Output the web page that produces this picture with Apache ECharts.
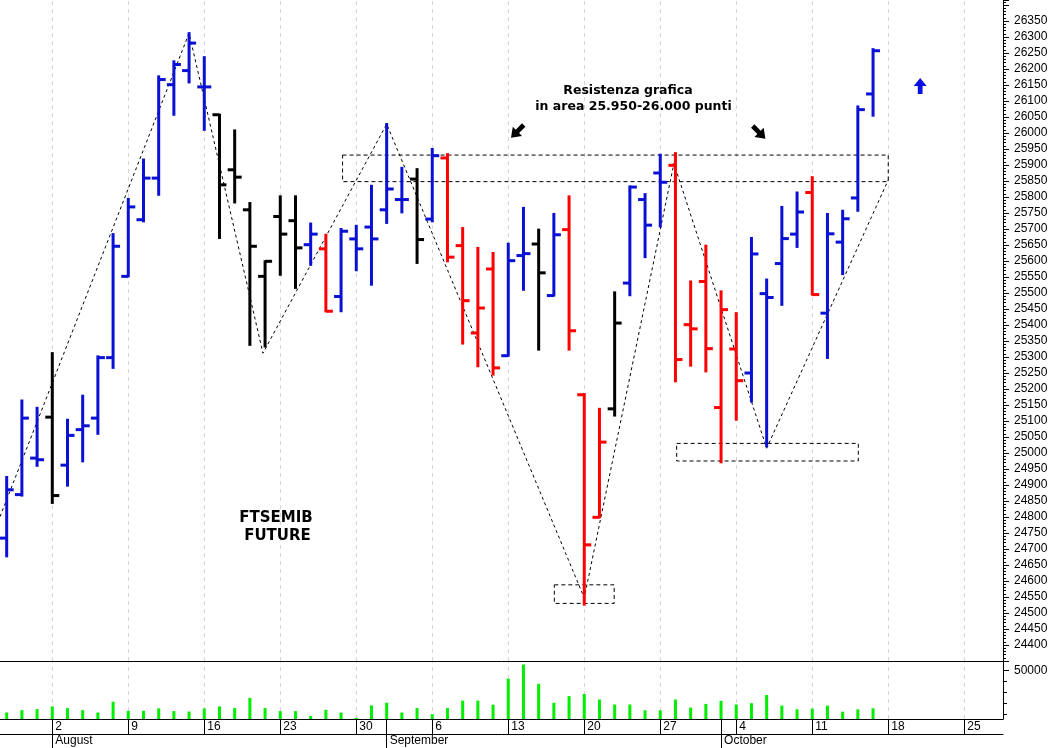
<!DOCTYPE html>
<html><head><meta charset="utf-8">
<script src="https://cdn.jsdelivr.net/npm/echarts@6/dist/echarts.min.js"></script>
<style>html,body{margin:0;padding:0;background:#fff}#c{width:1052px;height:748px}</style>
</head><body><div id="c"></div><script>
// ---- data (FTSEMIB future, daily OHLC, Jul 28 - Oct 15 2021) ----
const dates = [
 '28/07','29/07','30/07',
 '02/08','03/08','04/08','05/08','06/08',
 '09/08','10/08','11/08','12/08','13/08',
 '16/08','17/08','18/08','19/08','20/08',
 '23/08','24/08','25/08','26/08','27/08',
 '30/08','31/08','01/09','02/09','03/09',
 '06/09','07/09','08/09','09/09','10/09',
 '13/09','14/09','15/09','16/09','17/09',
 '20/09','21/09','22/09','23/09','24/09',
 '27/09','28/09','29/09','30/09','01/10',
 '04/10','05/10','06/10','07/10','08/10',
 '11/10','12/10','13/10','14/10','15/10'];
const openP = [24734,24870,24984,25112,24962,25073,25109,25298,25552,25729,25859,26151,26195,26144,26057,25885,25760,25552,25739,25726,
 25651,25638,25489,25669,25706,25760,25792,25856,25731,25922,25648,25375,25575,25304,25617,25653,25492,25698,25182,24799,
 25138,25531,25792,25875,25899,25401,25536,25142,25325,25250,25498,25592,25684,25814,25437,25659,25797,26122];
const highP = [24925,25164,25141,25312,25104,25179,25302,25684,25794,25917,26177,26224,26312,26237,26057,26008,25781,25599,25802,25802,
 25717,25682,25700,25710,25835,26028,25891,25887,25950,25934,25703,25641,25625,25654,25766,25698,25747,25802,25184,25138,
 25502,25833,25809,25932,25937,25536,25648,25505,25437,25672,25542,25769,25814,25862,25747,25757,26083,26262];
const lowP = [24677,24867,24960,24844,24898,24974,25060,25266,25552,25724,25807,26057,26158,26010,25672,25783,25338,25333,25557,25516,
 25588,25443,25443,25571,25526,25719,25752,25594,25724,25599,25342,25271,25245,25304,25510,25323,25492,25323,24526,24799,
 25117,25493,25612,25708,25224,25273,25255,24971,25104,25161,25021,25463,25644,25495,25297,25559,25757,26054];
const closeP = [24885,25109,24979,24867,25055,25085,25298,25646,25769,25859,26167,26214,26281,26144,25838,25862,25646,25599,25684,25641,
 25684,25443,25693,25638,25669,25825,25792,25667,25929,25612,25476,25453,25266,25601,25623,25563,25682,25382,24713,25034,
 25406,25831,25712,25846,25292,25388,25326,25448,25226,25622,25486,25670,25753,25495,25685,25732,26073,26257];
// trend colour code per bar: B = blue, R = red, K = black
const trend = ['B','B','B','K','B','B','B','B','B','B','B','B','B','B','K','K','K','K','K','K',
 'B','R','B','B','B','B','B','K','B','R','R','R','R','B','B','K','B','R','R','R',
 'K','B','B','B','R','R','R','R','R','B','B','B','B','R','B','B','B','B'];
const volume = [11900,14050,14960,17400,15870,14050,11880,21660,13420,13420,15590,13150,12790,15590,17400,15870,25100,15870,13150,13150,
 8800,14330,11880,7000,18310,20750,11880,15870,10340,15870,22650,22650,18940,42470,55320,37860,20660,26720,28630,23650,
 19120,19120,13870,13870,23650,16320,19670,22470,19120,20300,27720,18130,14780,15410,18130,12610,14780,15680];

// axis labels
const weekTickIdx = [3,8,13,18,23,28,33,38,43,48,53,58,63];
const weekTickLabels = ['2','9','16','23','30','6','13','20','27','4','11','18','25'];
const monthTickIdx = [3,25,47];
const monthLabels = ['August','September','October'];
const volTickMajor = [50000];
const volTickMinor = [10000,20000,30000,40000];

// annotations (trading-day index, price)
const zigzag = [[-0.44,24801],[12,26312],[16.86,25312],[25,26028],[38,24547],[43.9,25905],[50,25015],[58,25853]];
const boxes = [
  [[22.1,25931],[58.0,25848]],
  [[36.03,24588],[39.97,24530]],
  [[44.08,25030],[56.03,24975]]
];
const arrows = [[33.6,26005,'sw'],[49.5,26002,'se'],[60.1,26147,'up']];

// ---- chart ----
const colorMap = {B:'#0a10d4', R:'#ff0000', K:'#000000'};
const XMIN = -0.44, XMAX = 65.55;
const PMIN = 24350, PMAX = 26415.6;
const VMIN = 6000, VMAX = 58500;
const AXIS_FONT = 'Liberation Sans';

const ohlcData = dates.map((d,i)=>[i, openP[i], highP[i], lowP[i], closeP[i]]);
const volData = dates.map((d,i)=>[i, volume[i]]);

function renderOHLC(params, api){
  const i = params.dataIndex;
  const x = api.value(0);
  const pO = api.coord([x, api.value(1)]);
  const pH = api.coord([x, api.value(2)]);
  const pL = api.coord([x, api.value(3)]);
  const pC = api.coord([x, api.value(4)]);
  const st = {stroke: colorMap[trend[i]], lineWidth: 3};
  return {type:'group', children:[
    {type:'line', shape:{x1:pH[0], y1:pH[1]-1, x2:pL[0], y2:pL[1]+1}, style:st},
    {type:'line', shape:{x1:pO[0]-7, y1:pO[1], x2:pO[0], y2:pO[1]}, style:st},
    {type:'line', shape:{x1:pC[0], y1:pC[1], x2:pC[0]+7, y2:pC[1]}, style:st}
  ]};
}
function renderVol(params, api){
  const x = api.value(0);
  const p = api.coord([x, api.value(1)]);
  const b = api.coord([x, VMIN]);
  return {type:'rect', shape:{x:p[0]-1.5, y:p[1], width:3, height:b[1]-p[1]}, style:{fill:'#00ee00'}};
}

const arrowPath = 'path://M6,0 L12,8 L8.2,8 L8.2,16 L3.8,16 L3.8,8 L0,8 Z';
const arrowItems = arrows.map(a => ({
  value:[a[0], a[1]],
  symbol: arrowPath,
  symbolSize: a[2]==='up' ? [13,16] : [13,18],
  symbolRotate: a[2]==='up' ? 0 : (a[2]==='sw' ? 135 : -135),
  itemStyle: {color: a[2]==='up' ? '#0a10e0' : '#000', opacity:1}
}));

const gridLineMark = {
  silent:true, symbol:['none','none'], z:0, animation:false,
  label:{show:false},
  lineStyle:{color:'#d4d4dc', type:[4,4], width:1},
  emphasis:{disabled:true},
  data: weekTickIdx.map(v=>({xAxis:v}))
};

const baseX = (gi) => ({
  type:'value', gridIndex:gi, min:XMIN, max:XMAX,
  axisLine:{show:true, onZero:false, lineStyle:{color:'#000', width:1}},
  axisTick:{show:false}, axisLabel:{show:false}, splitLine:{show:false}
});

const option = {
  animation:false,
  backgroundColor:'#fff',
  grid:[
    {left:0, right:49, top:0, height:661, outerBoundsMode:'none', containLabel:false},
    {left:0, right:49, top:661, height:58, outerBoundsMode:'none', containLabel:false},
    {left:0, right:49, top:719, height:15, outerBoundsMode:'none', containLabel:false},
    {left:0, right:49, top:734, height:14, outerBoundsMode:'none', containLabel:false}
  ],
  xAxis:[
    baseX(0),
    baseX(1),
    Object.assign(baseX(2), {
      axisTick:{show:true, inside:true, length:15, customValues:weekTickIdx, lineStyle:{color:'#000', width:1}},
      axisLabel:{show:true, inside:true, margin:1, customValues:weekTickIdx, align:'left', padding:[0,0,0,3],
        color:'#000', fontFamily:AXIS_FONT, fontSize:12,
        formatter:(v)=>{const k = weekTickIdx.indexOf(Math.round(v)); return k>=0 ? weekTickLabels[k] : '';}}
    }),
    Object.assign(baseX(3), {
      axisLine:{show:false, onZero:false},
      axisTick:{show:true, inside:true, length:29, customValues:monthTickIdx, lineStyle:{color:'#000', width:1}},
      axisLabel:{show:true, inside:true, margin:1, customValues:monthTickIdx, align:'left', padding:[0,0,0,3],
        color:'#000', fontFamily:AXIS_FONT, fontSize:12,
        formatter:(v)=>{const k = monthTickIdx.indexOf(Math.round(v)); return k>=0 ? monthLabels[k] : '';}}
    })
  ],
  yAxis:[
    {type:'value', gridIndex:0, position:'right', min:PMIN, max:PMAX, interval:50,
     axisLine:{show:true, onZero:false, lineStyle:{color:'#000', width:1}},
     axisTick:{show:true, length:6, lineStyle:{color:'#000', width:1}},
     minorTick:{show:true, splitNumber:5, length:3, lineStyle:{color:'#000', width:1}},
     axisLabel:{margin:11, color:'#000', fontFamily:AXIS_FONT, fontSize:12,
       formatter:(v)=> (v%50===0 && v>=24400 && v<=26350) ? String(v) : ''},
     splitLine:{show:false}, minorSplitLine:{show:false}},
    {type:'value', gridIndex:1, position:'right', min:VMIN, max:VMAX,
     axisLine:{show:true, onZero:false, lineStyle:{color:'#000', width:1}},
     axisTick:{show:true, length:6, customValues:volTickMajor, lineStyle:{color:'#000', width:1}},
     axisLabel:{show:true, margin:11, customValues:volTickMajor, color:'#000', fontFamily:AXIS_FONT, fontSize:12,
       formatter:(v)=>String(Math.round(v))},
     splitLine:{show:false}},
    {type:'value', gridIndex:1, position:'right', min:VMIN, max:VMAX,
     axisLine:{show:false, onZero:false},
     axisTick:{show:true, length:4, customValues:volTickMinor, lineStyle:{color:'#000', width:1}},
     axisLabel:{show:false}, splitLine:{show:false}},
    {type:'value', gridIndex:2, show:false, min:0, max:1},
    {type:'value', gridIndex:3, show:false, min:0, max:1}
  ],
  series:[
    {type:'line', name:'trend', xAxisIndex:0, yAxisIndex:0, z:1, data:zigzag, showSymbol:false, symbol:'none',
     silent:true, clip:true, lineStyle:{color:'#000', width:1, type:[3,3]},
     markLine: gridLineMark,
     markArea:{silent:true, z:1,
       itemStyle:{color:'rgba(0,0,0,0)', borderColor:'#000', borderWidth:1, borderType:[4,3]},
       label:{show:false},
       data: boxes.map(b=>[{coord:b[0]},{coord:b[1]}])}},
    {type:'custom', name:'FTSEMIB', xAxisIndex:0, yAxisIndex:0, z:3, renderItem:renderOHLC, data:ohlcData,
     encode:{x:0, y:[1,2,3,4]}, clip:true},
    {type:'scatter', name:'arrows', xAxisIndex:0, yAxisIndex:0, z:4, silent:true, data:arrowItems,
     itemStyle:{opacity:1}},
    {type:'line', name:'vgrid', xAxisIndex:1, yAxisIndex:1, z:1, data:[], markLine: gridLineMark},
    {type:'custom', name:'Volume', xAxisIndex:1, yAxisIndex:1, z:3, renderItem:renderVol, data:volData,
     encode:{x:0, y:1}, clip:true}
  ],
  graphic:[
    {type:'text', x:628, y:91, z:10, style:{text:'Resistenza grafica', fill:'#000', font:'bold 12.5px "DejaVu Sans"', textAlign:'center', textVerticalAlign:'middle'}},
    {type:'text', x:633.5, y:106.5, z:10, style:{text:'in area 25.950-26.000 punti', fill:'#000', font:'bold 12.5px "DejaVu Sans"', textAlign:'center', textVerticalAlign:'middle'}},
    {type:'text', x:276, y:518.5, z:10, style:{text:'FTSEMIB', fill:'#000', font:'bold 15px "DejaVu Sans"', textAlign:'center', textVerticalAlign:'middle'}},
    {type:'text', x:277.5, y:536, z:10, style:{text:'FUTURE', fill:'#000', font:'bold 15px "DejaVu Sans"', textAlign:'center', textVerticalAlign:'middle'}}
  ]
};
const chart = echarts.init(document.getElementById('c'), null, {renderer:'canvas'});
chart.setOption(option);
</script></body></html>
